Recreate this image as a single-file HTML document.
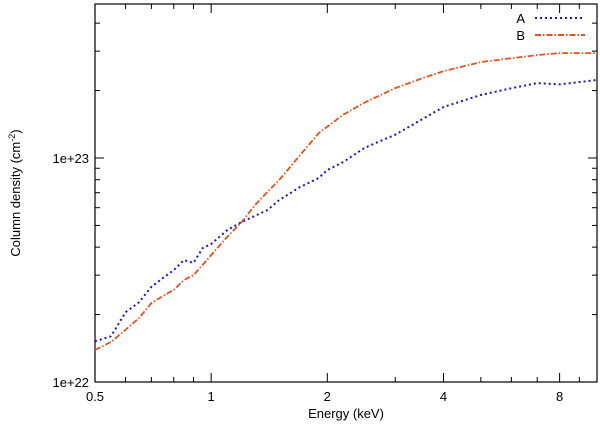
<!DOCTYPE html>
<html><head><meta charset="utf-8"><style>
body{margin:0;background:#fff}
svg{display:block;font-family:"Liberation Sans",sans-serif;font-size:13px}
</style></head><body>
<svg width="600" height="431">
<g id="axes"></g><g id="series"></g><g id="legend"></g>
</svg>
<script>
const energies=[0.5,0.55,0.6,0.65,0.7,0.75,0.8,0.85,0.9,0.95,1.0,1.1,1.2,1.3,1.4,1.5,1.7,1.9,2.0,2.2,2.5,3.0,3.5,4.0,5,6,7,8,10];
const seriesA=[1.52,1.60,2.05,2.27,2.66,2.91,3.16,3.5,3.4,3.96,4.13,4.76,5.18,5.52,5.86,6.49,7.42,8.14,8.84,9.6,11.1,12.7,14.8,16.9,19.1,20.5,21.6,21.3,22.3];
const seriesB=[1.39,1.51,1.71,1.93,2.25,2.42,2.58,2.85,3.0,3.33,3.69,4.44,5.18,6.17,7.06,7.97,10.3,12.9,13.8,15.6,17.7,20.5,22.6,24.4,26.8,27.9,28.8,29.4,29.4];
const xTicks=[0.5,1,2,4,8];
const xTickLabels=["0.5","1","2","4","8"];
const yTicks=[1,10];
const yTickLabels=["1e+22","1e+23"];
const L=95,R=597,T=4,B=382;
const xmin=0.5,xmax=10,ymin=1,ymax=Math.pow(10,(B-T)/224);
const NS="http://www.w3.org/2000/svg";
function X(v){return L+(Math.log(v)-Math.log(xmin))/(Math.log(xmax)-Math.log(xmin))*(R-L);}
function Y(v){return B-(Math.log10(v)-Math.log10(ymin))/(Math.log10(ymax)-Math.log10(ymin))*(B-T);}
function el(t,a,p){const e=document.createElementNS(NS,t);for(const k in a)e.setAttribute(k,a[k]);p.appendChild(e);return e;}
const ax=document.getElementById('axes');
const frame=el('rect',{x:L,y:T,width:R-L,height:B-T,fill:'none',stroke:'#000','stroke-width':1.2},ax);


xTicks.forEach((v,i)=>{const x=X(v);
 el('line',{x1:x,x2:x,y1:B,y2:B-9,stroke:'#000'},ax);el('line',{x1:x,x2:x,y1:T,y2:T+9,stroke:'#000'},ax);
 const t=el('text',{x:x,y:B+19,'text-anchor':'middle'},ax);t.textContent=xTickLabels[i];
 
 });
[0.6,0.7,0.8,0.9,3,5,6,7,9,10].forEach(vv=>{const x=X(vv);if(x>R)return;
 el('line',{x1:x,x2:x,y1:B,y2:B-5,stroke:'#000'},ax);el('line',{x1:x,x2:x,y1:T,y2:T+5,stroke:'#000'},ax);});
yTicks.forEach((v,i)=>{const y=Y(v);
 el('line',{x1:L,x2:L+9,y1:y,y2:y,stroke:'#000'},ax);el('line',{x1:R,x2:R-9,y1:y,y2:y,stroke:'#000'},ax);
 const t=el('text',{x:L-6,y:y+5,'text-anchor':'end'},ax);t.textContent=yTickLabels[i];
 
 });
[2,3,4,5,6,7,8,9,20,30,40].forEach(v=>{const y=Y(v);if(y<T)return;
 el('line',{x1:L,x2:L+5,y1:y,y2:y,stroke:'#000'},ax);el('line',{x1:R,x2:R-5,y1:y,y2:y,stroke:'#000'},ax);});
const xt=el('text',{x:(L+R)/2,y:418,'text-anchor':'middle'},ax);xt.textContent='Energy (keV)';


const yt=el('text',{x:0,y:0,'text-anchor':'middle',transform:'translate(20,193) rotate(-90)'},ax);
yt.innerHTML='Column density (cm<tspan dy="-5" font-size="9">-2</tspan><tspan dy="5">)</tspan>';


function linePath(vals){let d='';for(let i=0;i<energies.length;i++){const x=Math.min(X(energies[i]),R),y=Y(vals[i]);
 d+=(i===0?'M':'L')+x.toFixed(1)+','+y.toFixed(1);}return d;}
const sg=document.getElementById('series');
const pA=el('path',{d:linePath(seriesA),fill:'none',stroke:'#1515d0','stroke-width':2,'stroke-dasharray':'2,3'},sg);


const pB=el('path',{d:linePath(seriesB),fill:'none',stroke:'#e8501a','stroke-width':1.8,'stroke-dasharray':'6,2,1.5,2'},sg);


const lg=document.getElementById('legend');
[['A','#1515d0','2,3',18],['B','#e8501a','6,2,1.5,2',35]].forEach(([n,c,da,y])=>{
 const t=el('text',{x:525,y:y+5,'text-anchor':'end'},lg);t.textContent=n;
 
 
 const l=el('line',{x1:535,x2:585,y1:y,y2:y,stroke:c,'stroke-width':2,'stroke-dasharray':da},lg);
 
 });
</script>
</body></html>
